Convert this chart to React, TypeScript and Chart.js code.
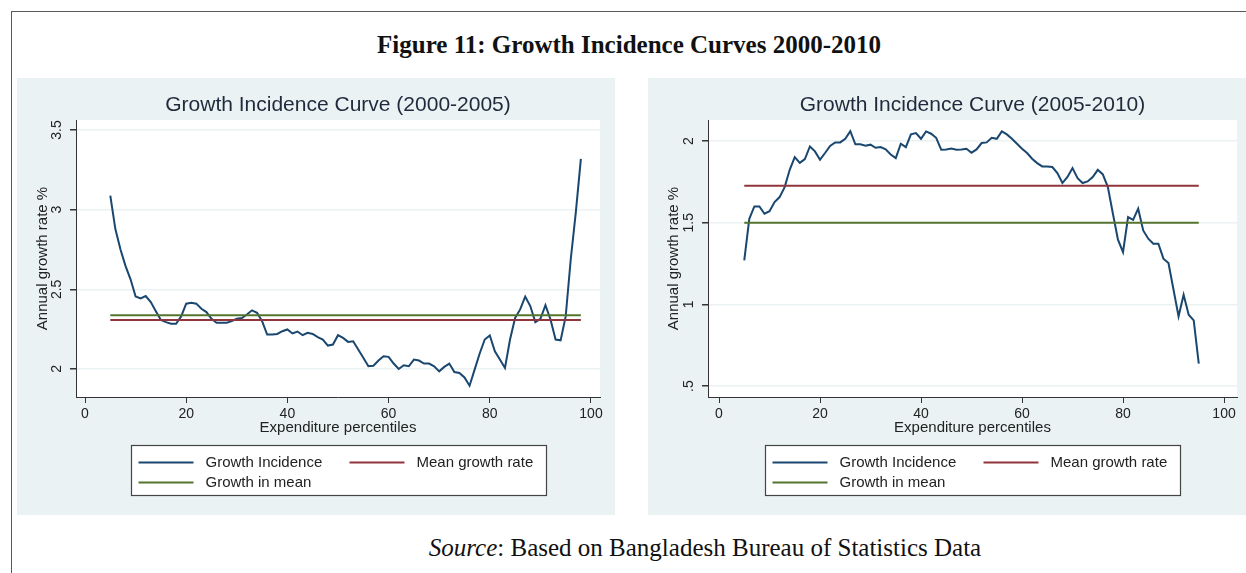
import React, { useEffect, useRef } from "react";
import { Chart, registerables } from "chart.js";

Chart.register(...registerables);

// ---- Data: Growth Incidence Curve 2000-2005 ----
const percentiles2000 = [
  5, 6, 7, 8, 9, 10, 11, 12, 13, 14, 15, 16, 17, 18, 19, 20, 21, 22, 23, 24,
  25, 26, 27, 28, 29, 30, 31, 32, 33, 34, 35, 36, 37, 38, 39, 40, 41, 42, 43,
  44, 45, 46, 47, 48, 49, 50, 51, 52, 53, 54, 55, 56, 57, 58, 59, 60, 61, 62,
  63, 64, 65, 66, 67, 68, 69, 70, 71, 72, 73, 74, 75, 76, 77, 78, 79, 80, 81,
  82, 83, 84, 85, 86, 87, 88, 89, 90, 91, 92, 93, 94, 95, 96, 97, 98,
];
const incidence2000 = [
  3.088, 2.878, 2.752, 2.647, 2.563, 2.455, 2.443, 2.458, 2.42, 2.363, 2.307,
  2.294, 2.284, 2.284, 2.33, 2.41, 2.416, 2.41, 2.378, 2.357, 2.315, 2.29, 2.29,
  2.29, 2.3, 2.315, 2.32, 2.342, 2.368, 2.353, 2.3, 2.216, 2.216, 2.22, 2.237,
  2.248, 2.223, 2.235, 2.212, 2.227, 2.22, 2.2, 2.185, 2.147, 2.153, 2.212,
  2.195, 2.17, 2.174, 2.122, 2.07, 2.017, 2.02, 2.053, 2.08, 2.076, 2.034, 2.0,
  2.023, 2.017, 2.059, 2.053, 2.034, 2.034, 2.017, 1.985, 2.013, 2.034, 1.981,
  1.975, 1.947, 1.895, 1.996, 2.097, 2.185, 2.21, 2.111, 2.059, 2.006, 2.185,
  2.32, 2.374, 2.454, 2.395, 2.294, 2.315, 2.4, 2.311, 2.185, 2.18, 2.33,
  2.689, 2.983, 3.319,
];
const meanGrowthRate2000 = 2.308;
const growthInMean2000 = 2.337;

// ---- Data: Growth Incidence Curve 2005-2010 ----
const percentiles2010 = [
  5, 6, 7, 8, 9, 10, 11, 12, 13, 14, 15, 16, 17, 18, 19, 20, 21, 22, 23, 24,
  25, 26, 27, 28, 29, 30, 31, 32, 33, 34, 35, 36, 37, 38, 39, 40, 41, 42, 43,
  44, 45, 46, 47, 48, 49, 50, 51, 52, 53, 54, 55, 56, 57, 58, 59, 60, 61, 62,
  63, 64, 65, 66, 67, 68, 69, 70, 71, 72, 73, 74, 75, 76, 77, 78, 79, 80, 81,
  82, 83, 84, 85, 86, 87, 88, 89, 90, 91, 92, 93, 94, 95,
];
const incidence2010 = [
  1.269, 1.524, 1.6, 1.6, 1.555, 1.571, 1.627, 1.657, 1.718, 1.824, 1.902,
  1.867, 1.89, 1.967, 1.937, 1.886, 1.927, 1.97, 1.992, 1.992, 2.014, 2.061,
  1.98, 1.98, 1.971, 1.978, 1.959, 1.963, 1.949, 1.918, 1.896, 1.984, 1.963,
  2.041, 2.049, 2.014, 2.059, 2.045, 2.02, 1.947, 1.949, 1.955, 1.947, 1.949,
  1.953, 1.929, 1.949, 1.988, 1.992, 2.02, 2.014, 2.059, 2.041, 2.014, 1.984,
  1.953, 1.927, 1.892, 1.865, 1.845, 1.845, 1.841, 1.804, 1.743, 1.78, 1.835,
  1.773, 1.743, 1.753, 1.78, 1.824, 1.796, 1.718, 1.555, 1.396, 1.32, 1.535,
  1.518, 1.586, 1.453, 1.402, 1.371, 1.371, 1.28, 1.253, 1.09, 0.927, 1.059,
  0.937, 0.902, 0.637,
];
const meanGrowthRate2010 = 1.726;
const growthInMean2010 = 1.5;

// ---- Axis ticks ----
const xTickValues = [0, 20, 40, 60, 80, 100];
const yTicks2000 = [2, 2.5, 3, 3.5];
const yTickLabels2000 = ["2", "2.5", "3", "3.5"];
const yTicks2010 = [0.5, 1, 1.5, 2];
const yTickLabels2010 = [".5", "1", "1.5", "2"];

const seriesLabels = ["Growth Incidence", "Mean growth rate", "Growth in mean"];

const NAVY = "#1a476f";
const MAROON = "#90353b";
const GREEN = "#55752f";
const SANS = "'Liberation Sans', Arial, Helvetica, sans-serif";
const SERIF = "'Liberation Serif', 'Times New Roman', serif";
const TEXT = "#222222";
const PANEL_BG = "#eaf2f3";

// White plot region behind the lines, and a boxed two-column legend below the axis.
const stataDecor = {
  id: "stataDecor",
  beforeDraw(chart: any) {
    const { ctx, chartArea } = chart;
    ctx.save();
    ctx.fillStyle = "#ffffff";
    ctx.fillRect(
      chartArea.left,
      chartArea.top,
      chartArea.right - chartArea.left,
      chartArea.bottom - chartArea.top
    );
    ctx.restore();
  },
  afterDraw(chart: any) {
    const { ctx, chartArea } = chart;
    const cx = (chartArea.left + chartArea.right) / 2;
    const boxW = 415;
    const boxH = 50;
    const left = Math.round(cx - boxW / 2) + 0.5;
    const top = chartArea.bottom + 48 + 0.5;
    ctx.save();
    ctx.fillStyle = "#ffffff";
    ctx.fillRect(left, top, boxW, boxH);
    ctx.strokeStyle = "#444444";
    ctx.lineWidth = 1.2;
    ctx.strokeRect(left, top, boxW, boxH);
    const colX = [7, 218];
    const rowY = [17, 37];
    ctx.font = `15px ${SANS}`;
    ctx.textBaseline = "middle";
    ctx.textAlign = "left";
    chart.data.datasets.forEach((ds: any, i: number) => {
      const col = i % 2;
      const row = Math.floor(i / 2);
      const x0 = left + colX[col];
      const y0 = top + rowY[row];
      ctx.strokeStyle = ds.borderColor;
      ctx.lineWidth = 2;
      ctx.beginPath();
      ctx.moveTo(x0, y0);
      ctx.lineTo(x0 + 55, y0);
      ctx.stroke();
      ctx.fillStyle = TEXT;
      ctx.fillText(ds.label, x0 + 67, y0 + 0.5);
    });
    ctx.restore();
  },
};

type PanelProps = {
  title: string;
  percentiles: number[];
  incidence: number[];
  meanRate: number;
  growthMean: number;
  yTicks: number[];
  yTickLabels: string[];
  xMin: number;
  xMax: number;
  yMin: number;
  yMax: number;
  yAxisWidth: number;
  rightPad: number;
  left: number;
};

function IncidencePanel(props: PanelProps) {
  const ref = useRef<HTMLCanvasElement>(null);

  useEffect(() => {
    if (!ref.current) return;
    const first = props.percentiles[0];
    const last = props.percentiles[props.percentiles.length - 1];
    const chart = new Chart(ref.current, {
      type: "line",
      data: {
        datasets: [
          {
            label: seriesLabels[0],
            data: props.percentiles.map((p, i) => ({ x: p, y: props.incidence[i] })),
            borderColor: NAVY,
            borderWidth: 2,
            pointRadius: 0,
            tension: 0,
            order: 3,
          },
          {
            label: seriesLabels[1],
            data: [
              { x: first, y: props.meanRate },
              { x: last, y: props.meanRate },
            ],
            borderColor: MAROON,
            borderWidth: 2,
            pointRadius: 0,
            order: 2,
          },
          {
            label: seriesLabels[2],
            data: [
              { x: first, y: props.growthMean },
              { x: last, y: props.growthMean },
            ],
            borderColor: GREEN,
            borderWidth: 2,
            pointRadius: 0,
            order: 1,
          },
        ],
      },
      options: {
        animation: false,
        responsive: false,
        events: [],
        layout: {
          autoPadding: false,
          padding: { left: 0, right: props.rightPad, top: 0, bottom: 0 },
        },
        plugins: {
          legend: { display: false },
          tooltip: { enabled: false },
          title: {
            display: true,
            text: props.title,
            fullSize: false,
            color: "#1f2a3c",
            font: { family: SANS, size: 21, weight: "normal" },
            padding: { top: 15, bottom: 1.8 },
          },
        },
        scales: {
          x: {
            type: "linear",
            min: props.xMin,
            max: props.xMax,
            afterBuildTicks: (s: any) => {
              s.ticks = xTickValues.map((v) => ({ value: v }));
            },
            afterFit: (s: any) => {
              s.height = 118;
            },
            ticks: {
              color: TEXT,
              font: { family: SANS, size: 14 },
              padding: 3,
              maxRotation: 0,
              callback: (v: any) => String(v),
            },
            grid: {
              drawOnChartArea: false,
              drawTicks: true,
              tickLength: 6,
              tickColor: "#333333",
            },
            border: { display: true, color: "#333333", width: 1 },
            title: {
              display: true,
              text: "Expenditure percentiles",
              color: TEXT,
              font: { family: SANS, size: 15 },
              padding: { top: 0, bottom: 78 },
            },
          },
          y: {
            type: "linear",
            min: props.yMin,
            max: props.yMax,
            afterBuildTicks: (s: any) => {
              s.ticks = props.yTicks.map((v) => ({ value: v }));
            },
            afterFit: (s: any) => {
              s.width = props.yAxisWidth;
            },
            ticks: {
              color: TEXT,
              font: { family: SANS, size: 14 },
              padding: 3,
              minRotation: 90,
              maxRotation: 90,
              crossAlign: "center",
              callback: (v: any) => {
                const idx = props.yTicks.indexOf(Number(v));
                return idx >= 0 ? props.yTickLabels[idx] : "";
              },
            },
            grid: {
              color: PANEL_BG,
              lineWidth: 1.5,
              drawTicks: true,
              tickLength: 6,
              tickColor: "#333333",
            },
            border: { display: true, color: "#333333", width: 1 },
            title: {
              display: true,
              text: "Annual growth rate %",
              color: TEXT,
              font: { family: SANS, size: 15 },
              padding: { top: 17, bottom: 0 },
            },
          },
        },
      },
      plugins: [stataDecor],
    } as any);
    return () => chart.destroy();
  }, []);

  return (
    <div
      style={{
        position: "absolute",
        left: props.left,
        top: 78,
        width: 598,
        height: 437,
        background: PANEL_BG,
      }}
    >
      <canvas ref={ref} width={598} height={437} style={{ width: 598, height: 437, display: "block" }} />
    </div>
  );
}

export default function App() {
  return (
    <div
      style={{
        position: "absolute",
        left: 0,
        top: 0,
        width: 1246,
        height: 573,
        background: "#ffffff",
        overflow: "hidden",
      }}
    >
      <div
        style={{
          position: "absolute",
          left: 11,
          top: 11,
          width: 1240,
          height: 570,
          borderTop: "1.5px solid #5a5a5a",
          borderLeft: "1.5px solid #5a5a5a",
        }}
      />
      <div
        style={{
          position: "absolute",
          left: 0,
          width: 1258,
          top: 32,
          textAlign: "center",
          fontFamily: SERIF,
          fontWeight: "bold",
          fontSize: 25,
          lineHeight: "25px",
          color: "#111111",
          whiteSpace: "nowrap",
        }}
      >
        Figure 11: Growth Incidence Curves 2000-2010
      </div>
      <IncidencePanel
        title="Growth Incidence Curve (2000-2005)"
        percentiles={percentiles2000}
        incidence={incidence2000}
        meanRate={meanGrowthRate2000}
        growthMean={growthInMean2000}
        yTicks={yTicks2000}
        yTickLabels={yTickLabels2000}
        xMin={-1.78}
        xMax={101.78}
        yMin={1.824}
        yMax={3.563}
        yAxisWidth={59}
        rightPad={15}
        left={17}
      />
      <IncidencePanel
        title="Growth Incidence Curve (2005-2010)"
        percentiles={percentiles2010}
        incidence={incidence2010}
        meanRate={meanGrowthRate2010}
        growthMean={growthInMean2010}
        yTicks={yTicks2010}
        yTickLabels={yTickLabels2010}
        xMin={-2.18}
        xMax={102.57}
        yMin={0.433}
        yMax={2.129}
        yAxisWidth={60}
        rightPad={9}
        left={648}
      />
      <div
        style={{
          position: "absolute",
          left: 0,
          width: 1410,
          top: 535,
          textAlign: "center",
          fontFamily: SERIF,
          fontSize: 25,
          lineHeight: "25px",
          color: "#111111",
          whiteSpace: "nowrap",
        }}
      >
        <i>Source</i>: Based on Bangladesh Bureau of Statistics Data
      </div>
    </div>
  );
}
